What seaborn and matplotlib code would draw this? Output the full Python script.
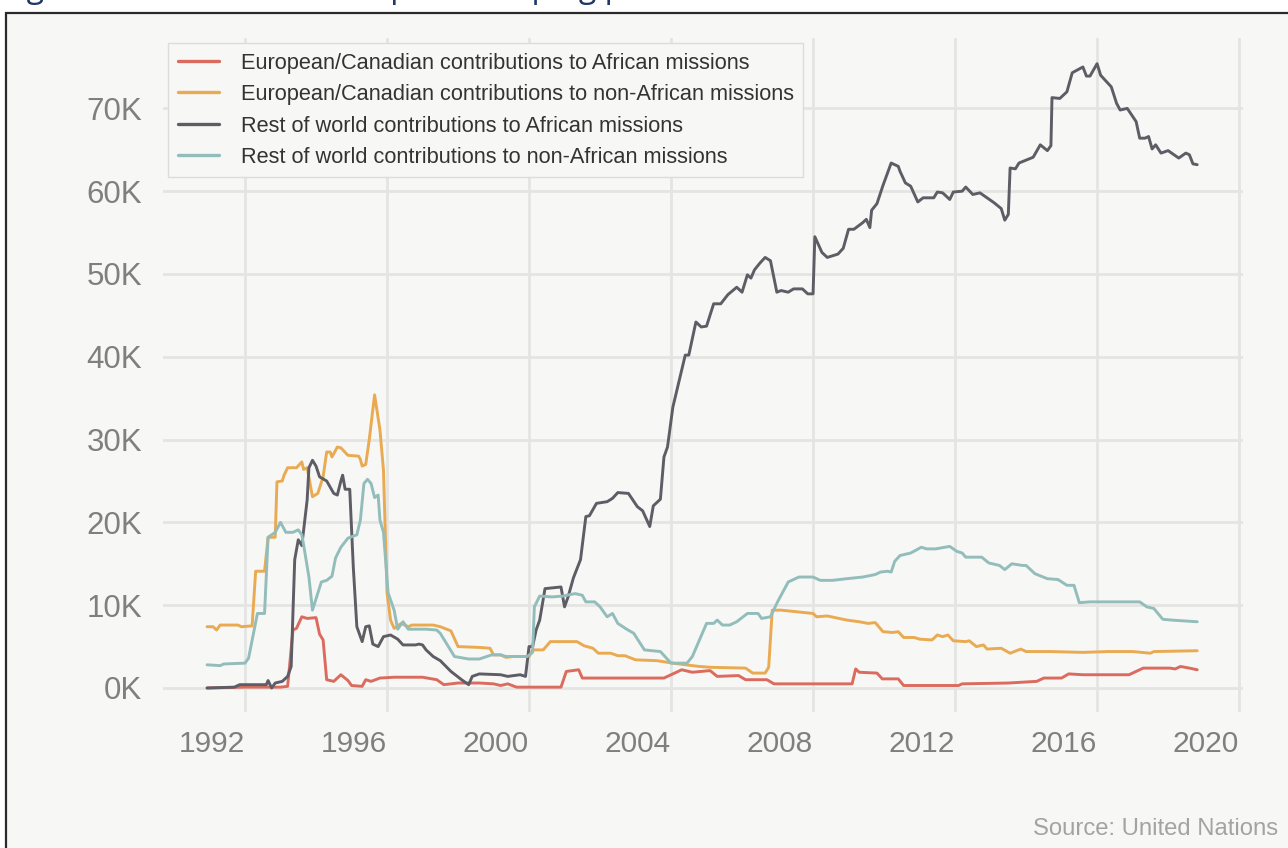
import numpy as np
import pandas as pd
import matplotlib
matplotlib.use("Agg")
import matplotlib.pyplot as plt
from matplotlib.patches import Rectangle
from matplotlib.ticker import FuncFormatter
import seaborn as sns

# ---------------- data (thousands of personnel) ----------------
series_names = [
    "European/Canadian contributions to African missions",
    "European/Canadian contributions to non-African missions",
    "Rest of world contributions to African missions",
    "Rest of world contributions to non-African missions",
]
colors = ["#db6b5e", "#e9aa52", "#5e5d66", "#92bdbb"]

eu_afr_x = [1990.93, 1992.0, 1993.0, 1993.2, 1993.35, 1993.45, 1993.6, 1993.75, 1994.0, 1994.1,
            1994.2, 1994.3, 1994.5, 1994.7, 1994.9, 1995.0, 1995.3, 1995.4, 1995.55, 1995.8,
            1996.2, 1997.0, 1997.4, 1997.6, 1998.0, 1998.6, 1999.0, 1999.2, 1999.4, 1999.65,
            2000.9, 2001.05, 2001.4, 2001.5, 2002.5, 2003.8, 2004.3, 2004.6, 2005.1, 2005.3,
            2005.9, 2006.1, 2006.7, 2006.9, 2009.1, 2009.2, 2009.3, 2009.8, 2009.95, 2010.4,
            2010.55, 2012.1, 2012.2, 2013.5, 2014.3, 2014.5, 2015.0, 2015.2, 2015.6, 2016.9,
            2017.3, 2018.05, 2018.2, 2018.35, 2018.6, 2018.82]
eu_afr_y = [0.0, 0.1, 0.1, 0.2, 7.0, 7.2, 8.6, 8.4, 8.5, 6.5,
            5.8, 1.0, 0.8, 1.6, 0.9, 0.3, 0.2, 1.0, 0.8, 1.2,
            1.3, 1.3, 1.0, 0.4, 0.6, 0.6, 0.5, 0.3, 0.5, 0.1,
            0.1, 2.0, 2.2, 1.2, 1.2, 1.2, 2.2, 1.9, 2.1, 1.4,
            1.5, 1.0, 1.0, 0.5, 0.5, 2.3, 1.9, 1.8, 1.1, 1.1,
            0.3, 0.3, 0.5, 0.6, 0.8, 1.2, 1.2, 1.7, 1.6, 1.6,
            2.4, 2.4, 2.3, 2.6, 2.4, 2.2]

eu_non_x = [1990.93, 1991.1, 1991.2, 1991.3, 1991.8, 1991.9, 1992.2, 1992.3, 1992.55, 1992.65,
            1992.85, 1992.9, 1993.05, 1993.1, 1993.2, 1993.45, 1993.6, 1993.65, 1993.75, 1993.9,
            1994.05, 1994.2, 1994.3, 1994.4, 1994.45, 1994.6, 1994.7, 1994.9, 1995.2, 1995.25,
            1995.3, 1995.4, 1995.5, 1995.65, 1995.8, 1995.9, 1996.0, 1996.1, 1996.2, 1996.4,
            1996.6, 1996.7, 1997.3, 1997.5, 1997.8, 1998.0, 1998.6, 1998.9, 1999.0, 1999.2,
            1999.35, 1999.55, 2000.0, 2000.1, 2000.4, 2000.6, 2001.35, 2001.55, 2001.8, 2001.95,
            2002.3, 2002.5, 2002.7, 2003.0, 2003.6, 2004.05, 2004.6, 2004.8, 2005.1, 2006.1,
            2006.3, 2006.65, 2006.75, 2006.85, 2007.1, 2008.0, 2008.1, 2008.4, 2008.95, 2009.3,
            2009.55, 2009.75, 2009.97, 2010.25, 2010.4, 2010.55, 2010.85, 2011.0, 2011.35, 2011.5,
            2011.65, 2011.8, 2011.95, 2012.3, 2012.4, 2012.6, 2012.8, 2012.9, 2013.3, 2013.55,
            2013.85, 2014.0, 2014.7, 2015.6, 2016.3, 2017.0, 2017.5, 2017.6, 2018.82]
eu_non_y = [7.4, 7.4, 7.0, 7.6, 7.6, 7.4, 7.5, 14.1, 14.1, 18.2,
            18.2, 24.9, 25.0, 25.7, 26.6, 26.6, 27.3, 26.4, 26.6, 23.1,
            23.5, 25.5, 28.5, 28.5, 27.9, 29.1, 29.0, 28.1, 28.0, 27.6,
            26.8, 27.0, 30.0, 35.4, 31.2, 26.3, 11.5, 8.2, 7.2, 7.8,
            7.4, 7.6, 7.6, 7.4, 6.9, 5.0, 4.9, 4.8, 4.0, 4.0,
            3.7, 3.8, 3.8, 4.6, 4.6, 5.6, 5.6, 5.1, 4.8, 4.2,
            4.2, 3.9, 3.9, 3.4, 3.3, 3.0, 2.7, 2.6, 2.5, 2.4,
            1.8, 1.8, 2.5, 9.4, 9.4, 9.0, 8.6, 8.7, 8.2, 8.0,
            7.8, 7.9, 6.8, 6.7, 6.8, 6.1, 6.1, 5.9, 5.8, 6.4,
            6.2, 6.4, 5.7, 5.6, 5.7, 5.0, 5.2, 4.7, 4.8, 4.2,
            4.7, 4.4, 4.4, 4.3, 4.4, 4.4, 4.2, 4.4, 4.5]

row_afr_x = [1990.93, 1991.7, 1991.85, 1992.6, 1992.65, 1992.75, 1992.85, 1993.05, 1993.2, 1993.3,
             1993.4, 1993.5, 1993.6, 1993.75, 1993.8, 1993.9, 1994.0, 1994.1, 1994.3, 1994.5,
             1994.6, 1994.7, 1994.75, 1994.82, 1994.95, 1995.05, 1995.15, 1995.3, 1995.4, 1995.5,
             1995.6, 1995.75, 1995.9, 1996.1, 1996.3, 1996.45, 1996.8, 1996.9, 1997.0, 1997.1,
             1997.3, 1997.5, 1997.8, 1998.1, 1998.3, 1998.4, 1998.6, 1999.2, 1999.4, 1999.75,
             1999.9, 2000.0, 2000.1, 2000.2, 2000.3, 2000.45, 2000.9, 2001.0, 2001.1, 2001.25,
             2001.45, 2001.6, 2001.7, 2001.9, 2002.2, 2002.35, 2002.5, 2002.8, 2003.05, 2003.2,
             2003.4, 2003.5, 2003.7, 2003.8, 2003.9, 2004.05, 2004.4, 2004.5, 2004.7, 2004.85,
             2005.0, 2005.2, 2005.4, 2005.6, 2005.85, 2006.0, 2006.15, 2006.25, 2006.35, 2006.5,
             2006.65, 2006.8, 2006.98, 2007.1, 2007.3, 2007.45, 2007.7, 2007.85, 2008.0, 2008.05,
             2008.25, 2008.4, 2008.7, 2008.85, 2009.0, 2009.15, 2009.4, 2009.5, 2009.6, 2009.65,
             2009.8, 2009.97, 2010.2, 2010.4, 2010.45, 2010.6, 2010.75, 2010.95, 2011.1, 2011.4,
             2011.5, 2011.65, 2011.85, 2011.95, 2012.2, 2012.3, 2012.5, 2012.7, 2012.9, 2013.1,
             2013.3, 2013.4, 2013.5, 2013.55, 2013.7, 2013.8, 2014.2, 2014.4, 2014.6, 2014.7,
             2014.73, 2014.95, 2015.15, 2015.3, 2015.6, 2015.7, 2015.8, 2016.0, 2016.1, 2016.4,
             2016.55, 2016.65, 2016.85, 2017.1, 2017.2, 2017.35, 2017.45, 2017.55, 2017.65, 2017.8,
             2018.0, 2018.3, 2018.5, 2018.6, 2018.7, 2018.82]
row_afr_y = [0.0, 0.1, 0.4, 0.4, 0.9, 0.0, 0.6, 0.8, 1.4, 2.6,
             15.5, 17.9, 17.2, 22.7, 26.6, 27.5, 26.8, 25.5, 25.0, 23.5,
             23.3, 25.0, 25.7, 24.0, 24.0, 14.6, 7.4, 5.6, 7.4, 7.5,
             5.3, 5.0, 6.2, 6.4, 5.9, 5.2, 5.2, 5.3, 5.2, 4.6,
             3.8, 3.3, 2.0, 1.0, 0.4, 1.4, 1.7, 1.6, 1.4, 1.6,
             1.4, 5.0, 5.0, 7.0, 8.2, 12.0, 12.2, 9.8, 11.0, 13.3,
             15.5, 20.7, 20.8, 22.3, 22.5, 22.9, 23.6, 23.5, 21.9, 21.4,
             19.5, 22.0, 22.8, 27.9, 29.1, 33.9, 40.2, 40.2, 44.2, 43.6,
             43.7, 46.4, 46.4, 47.5, 48.4, 47.8, 49.9, 49.5, 50.5, 51.3,
             52.0, 51.6, 47.8, 48.0, 47.8, 48.2, 48.2, 47.6, 47.6, 54.5,
             52.6, 52.0, 52.4, 53.1, 55.4, 55.4, 56.2, 56.6, 55.6, 57.7,
             58.5, 60.7, 63.4, 63.0, 62.4, 61.0, 60.6, 58.7, 59.2, 59.2,
             59.9, 59.8, 59.0, 59.9, 60.0, 60.5, 59.6, 59.8, 59.2, 58.6,
             57.9, 56.5, 57.2, 62.8, 62.7, 63.4, 64.1, 65.6, 64.9, 65.5,
             71.3, 71.2, 72.0, 74.3, 75.0, 73.9, 73.9, 75.4, 74.0, 72.6,
             70.6, 69.8, 70.0, 68.4, 66.4, 66.4, 66.6, 65.1, 65.6, 64.6,
             64.9, 64.0, 64.6, 64.4, 63.3, 63.2]

row_non_x = [1990.93, 1991.3, 1991.4, 1992.0, 1992.1, 1992.35, 1992.55, 1992.65, 1992.85, 1993.0,
             1993.15, 1993.35, 1993.5, 1993.6, 1993.65, 1993.8, 1993.9, 1994.15, 1994.3, 1994.45,
             1994.55, 1994.7, 1994.9, 1995.15, 1995.25, 1995.35, 1995.45, 1995.55, 1995.65, 1995.75,
             1995.8, 1995.9, 1996.03, 1996.2, 1996.3, 1996.45, 1996.6, 1997.1, 1997.4, 1997.5,
             1997.7, 1997.9, 1998.3, 1998.6, 1998.95, 1999.2, 1999.35, 1999.95, 2000.1, 2000.15,
             2000.3, 2000.65, 2000.95, 2001.3, 2001.5, 2001.6, 2001.85, 2002.0, 2002.2, 2002.35,
             2002.5, 2002.75, 2002.95, 2003.1, 2003.25, 2003.7, 2004.0, 2004.45, 2004.6, 2005.0,
             2005.2, 2005.3, 2005.45, 2005.65, 2005.85, 2006.15, 2006.45, 2006.55, 2006.8, 2007.0,
             2007.3, 2007.6, 2008.0, 2008.2, 2008.55, 2008.95, 2009.4, 2009.75, 2009.9, 2010.1,
             2010.2, 2010.3, 2010.45, 2010.75, 2011.05, 2011.2, 2011.45, 2011.85, 2012.05, 2012.2,
             2012.3, 2012.75, 2012.95, 2013.25, 2013.4, 2013.6, 2013.9, 2014.0, 2014.25, 2014.6,
             2014.9, 2015.15, 2015.35, 2015.5, 2015.8, 2016.6, 2017.2, 2017.4, 2017.6, 2017.85,
             2018.1, 2018.82]
row_non_y = [2.8, 2.7, 2.9, 3.0, 3.6, 9.0, 9.0, 18.2, 18.8, 20.0,
             18.8, 18.8, 19.1, 18.5, 17.3, 13.4, 9.4, 12.8, 13.0, 13.5,
             15.7, 17.0, 18.1, 18.5, 20.3, 24.7, 25.2, 24.7, 23.0, 23.3,
             20.3, 18.8, 11.5, 9.4, 7.1, 8.0, 7.1, 7.1, 7.0, 6.6,
             5.2, 3.8, 3.5, 3.5, 4.0, 4.0, 3.8, 3.8, 4.3, 9.8,
             11.1, 11.0, 11.1, 11.4, 11.2, 10.4, 10.4, 9.8, 8.6, 9.0,
             7.8, 7.1, 6.6, 5.6, 4.6, 4.4, 3.0, 3.0, 3.8, 7.8,
             7.8, 8.2, 7.6, 7.6, 8.0, 9.0, 9.0, 8.4, 8.6, 10.4,
             12.8, 13.4, 13.4, 13.0, 13.0, 13.2, 13.4, 13.7, 14.0, 14.1,
             14.0, 15.3, 16.0, 16.3, 17.0, 16.8, 16.8, 17.1, 16.5, 16.3,
             15.8, 15.8, 15.1, 14.8, 14.3, 15.0, 14.8, 14.8, 13.8, 13.2,
             13.1, 12.4, 12.4, 10.3, 10.4, 10.4, 10.4, 9.8, 9.6, 8.3,
             8.2, 8.0]

x_ticks = [1992, 1996, 2000, 2004, 2008, 2012, 2016, 2020]
y_ticks = [0, 10, 20, 30, 40, 50, 60, 70]

# ---------------- build long-form table ----------------
frames = []
for name, xs, ys in zip(series_names,
                        [eu_afr_x, eu_non_x, row_afr_x, row_non_x],
                        [eu_afr_y, eu_non_y, row_afr_y, row_non_y]):
    frames.append(pd.DataFrame({"year": xs, "value": ys, "series": name}))
df = pd.concat(frames, ignore_index=True)

# ---------------- styling ----------------
sns.set_theme(style="whitegrid")
plt.rcParams["font.family"] = ["Liberation Sans", "DejaVu Sans"]

W, H = 1288, 848
bg = "#f7f7f5"
fig = plt.figure(figsize=(W / 100, H / 100), dpi=100)
fig.patch.set_facecolor("white")

# framed panel background (border visible at top and left only)
frame = Rectangle((6 / W, -0.05), 1.2, 1 - 12.5 / H + 0.05, transform=fig.transFigure,
                  facecolor=bg, edgecolor="#2a2a2a", linewidth=1.6, zorder=-5)
fig.add_artist(frame)

# clipped title (only descenders visible at the very top of the image)
fig.text(2 / W, 1 + 3 / H, "Figure 2: Contributions to peacekeeping personnel",
         ha="left", va="baseline", fontsize=23, color="#1f3864", family="Open Sans")

ax = fig.add_axes([163 / W, 1 - 712 / H, (1243 - 163) / W, (712 - 38) / H])
ax.set_facecolor("none")

sns.lineplot(data=df, x="year", y="value", hue="series", hue_order=series_names,
             palette=colors, estimator=None, sort=True, linewidth=2.1, ax=ax)

ax.set_xlim(1989.69, 2020.11)
ax.set_ylim(-2.9, 78.5)
ax.set_xticks(x_ticks)
ax.set_yticks(y_ticks)
ax.yaxis.set_major_formatter(FuncFormatter(lambda v, p: f"{v:.0f}K"))
ax.set_xlabel("")
ax.set_ylabel("")
ax.grid(True, color="#e4e4e4", linewidth=2)
for s in ax.spines.values():
    s.set_visible(False)
ax.tick_params(axis="both", length=0, labelcolor="#7f7f7f")
ax.tick_params(axis="x", pad=13, labelsize=21.5)
ax.tick_params(axis="y", pad=15, labelsize=22.5)
for lbl in ax.get_xticklabels():
    lbl.set_horizontalalignment("right")

leg = ax.legend(loc="upper left", bbox_to_anchor=(0, 1), borderaxespad=0.25,
                fontsize=15.7, frameon=True, fancybox=False, framealpha=1,
                facecolor=bg, edgecolor="#dcdcdc", handlelength=1.9,
                handletextpad=1.0, labelspacing=0.48, borderpad=0.42)
leg.get_frame().set_linewidth(1.0)
for t in leg.get_texts():
    t.set_color("#333333")
for l in leg.get_lines():
    l.set_linewidth(2.4)

fig.text(1278 / W, 1 - 835 / H, "Source: United Nations", ha="right", va="baseline",
         fontsize=17.2, color="#a3a3a3")

fig.savefig("out.png", dpi=100, facecolor=fig.get_facecolor())
